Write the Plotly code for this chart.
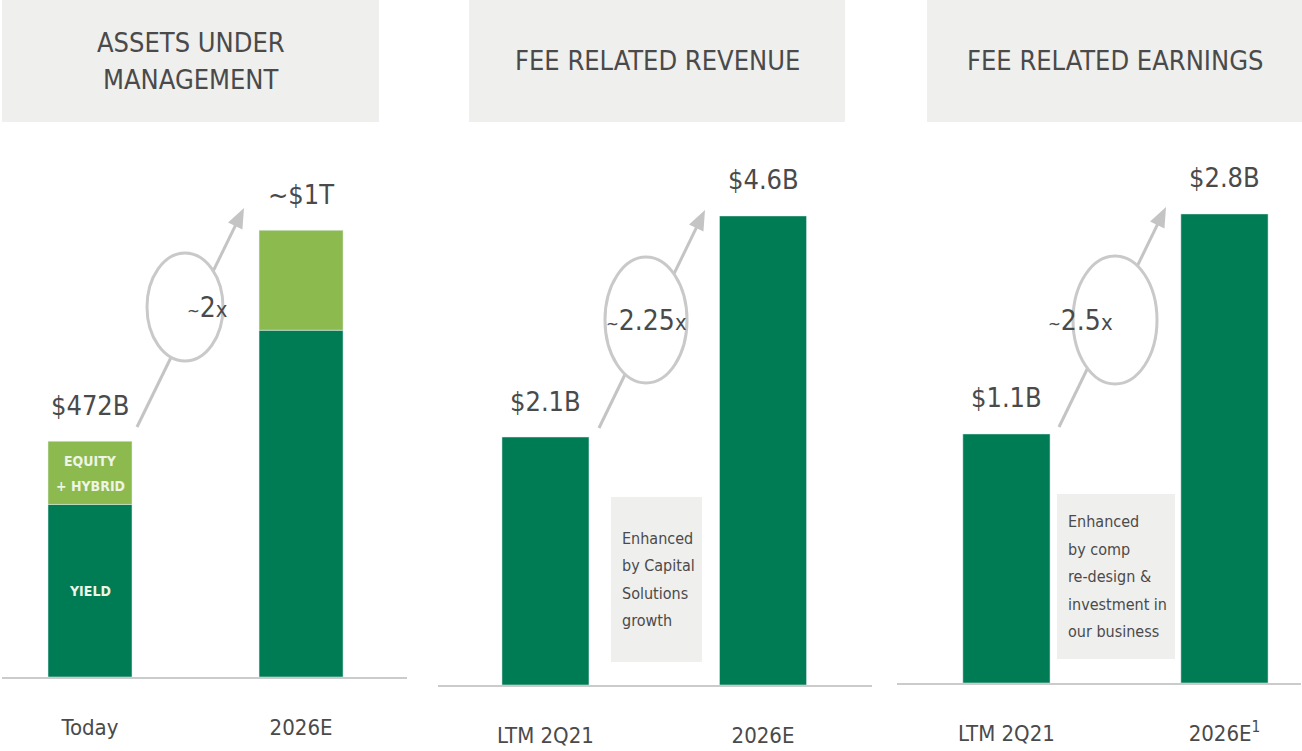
import plotly.graph_objects as go

W, H = 1302, 751

# panel 1 - assets under management ($B)
aum_cats = ['Today', '2026E']
aum_yield = [314, 750]
aum_equity = [158, 250]
aum_labels = ['$472B', '~$1T']

# panel 2 - fee related revenue ($B)
frr_cats = ['LTM 2Q21', '2026E']
frr_vals = [2.1, 4.6]
frr_labels = ['$2.1B', '$4.6B']

# panel 3 - fee related earnings ($B)
fre_cats = ['LTM 2Q21', '2026E<sup>1</sup>']
fre_vals = [1.1, 2.8]
fre_labels = ['$1.1B', '$2.8B']

titles = ['ASSETS UNDER<br>MANAGEMENT', 'FEE RELATED REVENUE', 'FEE RELATED EARNINGS']
multiples = ['~2', '~2.25', '~2.5']
notes = ['Enhanced<br>by Capital<br>Solutions<br>growth',
         'Enhanced<br>by comp<br>re-design &<br>investment in<br>our business']

DARK = '#007c55'
LIGHT = '#8cba4f'
GREY_TXT = '#4a4a4a'
NARROW = 'DejaVu Sans Condensed, Liberation Sans Narrow, sans-serif'


def px(x):
    return x / W


def py(y):
    return 1 - y / H


fig = go.Figure()

# panel 1 bars, axis floor below zero as in the slide
floor1 = -118
fig.add_trace(go.Bar(x=aum_cats, y=[v - floor1 for v in aum_yield], base=floor1,
                     marker_color=DARK, width=0.398, xaxis='x', yaxis='y'))
fig.add_trace(go.Bar(x=aum_cats, y=aum_equity, base=aum_yield,
                     marker_color=LIGHT, width=0.398, xaxis='x', yaxis='y'))

floor2 = -0.705
fig.add_trace(go.Bar(x=frr_cats, y=[v - floor2 for v in frr_vals], base=floor2,
                     marker_color=DARK, width=0.4, xaxis='x2', yaxis='y2'))

floor3 = -0.824
fig.add_trace(go.Bar(x=fre_cats, y=[v - floor3 for v in fre_vals], base=floor3,
                     marker_color=DARK, width=0.4, xaxis='x3', yaxis='y3'))

axis_common = dict(showgrid=False, zeroline=False, fixedrange=True)
xcommon = dict(axis_common, type='category', showline=True, linecolor='#cbcbcb',
               linewidth=2, ticks='', ticklabelstandoff=30,
               tickfont=dict(family=NARROW, size=22, color=GREY_TXT))
ycommon = dict(axis_common, visible=False)

fig.update_layout(
    width=W, height=H, margin=dict(l=0, r=0, t=0, b=0),
    plot_bgcolor='white', paper_bgcolor='white',
    barmode='overlay', showlegend=False,
    xaxis=dict(xcommon, domain=[px(2), px(407)], range=[-0.417, 1.502], anchor='y'),
    yaxis=dict(ycommon, domain=[py(677), py(150)], range=[floor1, 1201], anchor='x'),
    xaxis2=dict(xcommon, domain=[px(438), px(872)], range=[-0.494, 1.501], anchor='y2'),
    yaxis2=dict(ycommon, domain=[py(685), py(150)], range=[floor2, 5.346], anchor='x2'),
    xaxis3=dict(xcommon, domain=[px(897), px(1301)], range=[-0.502, 1.351], anchor='y3'),
    yaxis3=dict(ycommon, domain=[py(683), py(150)], range=[floor3, 3.294], anchor='x3'),
)


def text_lines(text, x, yc, step, font, xanchor='center', xref='paper'):
    # one annotation per line so the line spacing follows the slide
    lines = text.split('<br>')
    top = yc - step * (len(lines) - 1) / 2
    for i, ln in enumerate(lines):
        fig.add_annotation(xref=xref, yref='paper', x=x, y=py(top + i * step), text=ln,
                           showarrow=False, xanchor=xanchor, yanchor='middle', font=font)


# header boxes with titles
for (x0, x1), t in zip([(2, 379), (469, 845), (927, 1302)], titles):
    fig.add_shape(type='rect', xref='paper', yref='paper', x0=px(x0), x1=px(x1),
                  y0=py(122), y1=py(0), fillcolor='#efefee', line_width=0, layer='below')
    text_lines(t, px((x0 + x1) / 2), 61, 37, dict(family=NARROW, size=27, color=GREY_TXT))

# value labels above bars
label_sets = [(aum_cats, [a + b for a, b in zip(aum_yield, aum_equity)], aum_labels, ''),
              (frr_cats, frr_vals, frr_labels, '2'),
              (fre_cats, fre_vals, fre_labels, '3')]
for cats, vals, labs, k in label_sets:
    for c, v, lab in zip(cats, vals, labs):
        fig.add_annotation(xref='x' + k, yref='y' + k, x=c, y=v, text=lab,
                           showarrow=False, yanchor='middle', yshift=36,
                           font=dict(family=NARROW, size=27, color=GREY_TXT))

# segment labels inside the Today bar
seg_font = dict(family=NARROW, size=14, color='#eef4e6', weight='bold')
for i, ln in enumerate(['EQUITY', '+ HYBRID']):
    fig.add_annotation(xref='x', yref='y', x=aum_cats[0],
                       y=aum_yield[0] + aum_equity[0] / 2, yshift=12 - 25 * i,
                       text=ln, showarrow=False, font=seg_font)
fig.add_annotation(xref='x', yref='y', x=aum_cats[0], y=(aum_yield[0] + floor1) / 2,
                   text='YIELD', showarrow=False, font=seg_font)

# growth arrows with circled multiples
arrows = [((137, 427), (244, 208), (185, 307, 38, 54)),
          ((599, 428), (705, 210), (646, 320, 41, 63)),
          ((1059, 427), (1166, 207), (1115, 320, 42, 64))]
ARROW = '#c4c4c4'
for ((sx, sy), (tx, ty), (cx, cy, rx, ry)), m in zip(arrows, multiples):
    dx, dy = tx - sx, ty - sy
    n = (dx * dx + dy * dy) ** 0.5
    ux, uy = dx / n, dy / n
    bx, by = tx - ux * 20, ty - uy * 20
    fig.add_shape(type='line', xref='paper', yref='paper', x0=px(sx), y0=py(sy),
                  x1=px(bx + ux * 2), y1=py(by + uy * 2), line=dict(color=ARROW, width=3))
    head = 'M {} {} L {} {} L {} {} Z'.format(
        px(tx), py(ty),
        px(bx - uy * 8), py(by + ux * 8),
        px(bx + uy * 8), py(by - ux * 8))
    fig.add_shape(type='path', xref='paper', yref='paper', path=head,
                  fillcolor=ARROW, line_width=0)
    fig.add_shape(type='circle', xref='paper', yref='paper', x0=px(cx - rx), x1=px(cx + rx),
                  y0=py(cy + ry), y1=py(cy - ry), fillcolor='white',
                  line=dict(color='#c9c9c9', width=3))
    fig.add_annotation(xref='paper', yref='paper', x=px(cx), y=py(cy),
                       text='<span style="font-size:17px">~</span>{}'
                            '<span style="font-size:22px">x</span>'.format(m[1:]),
                       showarrow=False, font=dict(family=NARROW, size=28, color=GREY_TXT))

# note boxes
for (x0, x1, y0, y1), t in zip([(611, 702, 497, 662), (1057, 1175, 494, 659)], notes):
    fig.add_shape(type='rect', xref='paper', yref='paper', x0=px(x0), x1=px(x1),
                  y0=py(y1), y1=py(y0), fillcolor='#efefee', line_width=0, layer='below')
    text_lines(t, px(x0 + 9), (y0 + y1) / 2, 27.5,
               dict(family=NARROW, size=16, color=GREY_TXT), xanchor='left')

fig.write_html('out.html', config={'displayModeBar': False},
               post_script="document.body.style.margin='0';")
